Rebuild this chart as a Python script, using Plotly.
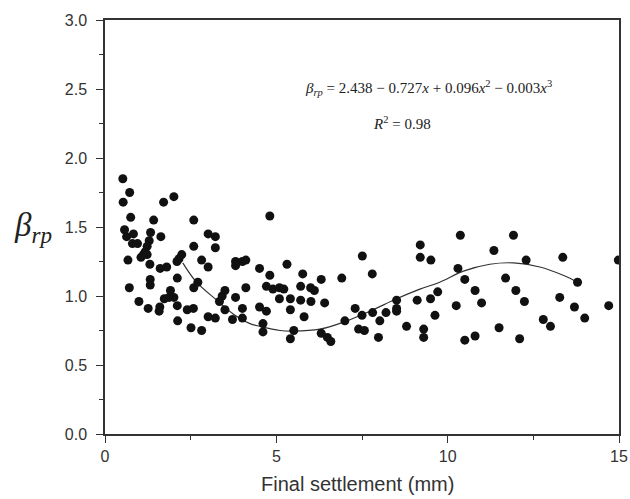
import plotly.graph_objects as go

settlement = [
    0.52, 0.72, 0.53, 1.71, 2.01, 0.75, 1.42, 0.57, 0.63, 0.83, 0.80, 0.95, 1.33, 1.63, 1.29, 1.23,
    1.17, 1.12, 1.05, 1.23, 2.24, 2.16, 2.10, 2.59, 2.59, 0.67, 1.31, 1.61, 1.80, 2.11, 1.32, 1.32,
    0.71, 2.59, 1.91, 1.73, 1.87, 2.01, 0.99, 1.26, 1.60, 1.58, 2.11, 2.40, 2.58, 2.12, 2.51,
    4.81, 3.01, 3.22, 3.22, 2.82, 3.01, 3.81, 3.81, 4.01, 4.11, 4.51, 4.81, 2.71, 3.50, 3.42, 3.34,
    3.81, 4.11, 4.71, 4.90, 5.09, 5.09, 3.01, 3.22, 3.50, 3.72, 4.01, 4.01, 4.51, 4.71, 4.61, 4.61, 2.82,
    7.51, 5.31, 5.77, 6.31, 6.91, 5.22, 5.71, 6.00, 6.11, 5.41, 5.71, 6.01, 6.41, 5.41, 5.81, 7.30,
    7.50, 7.00, 5.51, 5.41, 6.31, 6.49, 6.59, 7.40, 7.57,
    9.20, 9.20, 9.51, 7.80, 8.51, 9.11, 9.50, 9.71, 7.81, 8.20, 8.51, 8.51, 8.02, 9.63, 7.98, 8.80,
    9.30, 9.30,
    10.37, 11.92, 11.35, 12.29, 10.30, 10.50, 11.69, 10.80, 11.99, 10.99, 12.24, 10.25, 11.50, 10.50,
    10.80, 12.10,
    13.36, 14.98, 13.79, 13.27, 13.70, 14.70, 14.00, 12.79, 13.00,
]
beta_rp = [
    1.85, 1.75, 1.68, 1.68, 1.72, 1.57, 1.55, 1.48, 1.43, 1.45, 1.38, 1.38, 1.46, 1.43, 1.40, 1.36,
    1.32, 1.30, 1.28, 1.30, 1.30, 1.27, 1.25, 1.55, 1.36, 1.26, 1.23, 1.20, 1.21, 1.13, 1.12, 1.08,
    1.06, 1.06, 1.04, 0.98, 0.99, 0.99, 0.96, 0.91, 0.92, 0.89, 0.93, 0.90, 0.91, 0.82, 0.77,
    1.58, 1.45, 1.43, 1.35, 1.26, 1.21, 1.25, 1.22, 1.25, 1.26, 1.20, 1.15, 1.10, 1.04, 1.00, 0.96,
    0.99, 1.06, 1.07, 1.05, 1.06, 0.98, 0.85, 0.84, 0.90, 0.83, 0.91, 0.84, 0.92, 0.89, 0.80, 0.74, 0.75,
    1.29, 1.23, 1.16, 1.12, 1.13, 1.05, 1.07, 1.06, 1.04, 0.98, 0.97, 0.96, 0.95, 0.90, 0.85, 0.91,
    0.86, 0.82, 0.75, 0.69, 0.73, 0.70, 0.67, 0.76, 0.75,
    1.37, 1.28, 1.26, 1.16, 0.97, 0.97, 0.98, 1.03, 0.88, 0.88, 0.91, 0.89, 0.82, 0.86, 0.70, 0.78,
    0.76, 0.70,
    1.44, 1.44, 1.33, 1.26, 1.20, 1.12, 1.13, 1.04, 1.04, 0.95, 0.96, 0.93, 0.77, 0.68,
    0.71, 0.69,
    1.28, 1.26, 1.10, 0.99, 0.92, 0.93, 0.84, 0.83, 0.78,
]

# fitted curve
fit_x = [2.27, 2.67, 3.26, 3.74, 4.23, 4.52, 5.11, 5.49, 6.27, 6.95, 7.73, 8.51, 9.19, 9.77,
         10.46, 11.23, 11.92, 12.69, 13.37, 13.79]
fit_y = [1.24, 1.10, 0.97, 0.87, 0.80, 0.78, 0.75, 0.746, 0.76, 0.81, 0.89, 0.98, 1.05, 1.10,
         1.18, 1.23, 1.24, 1.21, 1.15, 1.10]

x_ticks = [0, 5, 10, 15]
y_ticks = [0.0, 0.5, 1.0, 1.5, 2.0, 2.5, 3.0]

fig = go.Figure()
fig.add_trace(go.Scatter(x=fit_x, y=fit_y, mode="lines", line=dict(color="#333333", width=1.2, shape="spline"),
                         showlegend=False, hoverinfo="skip"))
fig.add_trace(go.Scatter(x=settlement, y=beta_rp, mode="markers",
                         marker=dict(color="#111111", size=9), showlegend=False))

axis_common = dict(showline=True, linecolor="#333333", linewidth=1.5, mirror=True, showgrid=False,
                   zeroline=False, ticks="outside", ticklen=7, tickwidth=1.3, tickcolor="#333333",
                   automargin=False,
                   tickfont=dict(family="Liberation Sans, Arial", size=16, color="#333333"))

fig.update_xaxes(range=[0, 15], tickvals=x_ticks, ticktext=[str(v) for v in x_ticks],
                 minor=dict(dtick=2.5, ticks="outside", ticklen=4, tickcolor="#333333", tickwidth=1.2),
                 **axis_common)
fig.update_yaxes(range=[0, 3], tickvals=y_ticks, ticktext=[f"{v:.1f}" for v in y_ticks],
                 ticklabelstandoff=6,
                 minor=dict(dtick=0.25, ticks="outside", ticklen=4, tickcolor="#333333", tickwidth=1.2),
                 **axis_common)

fig.add_annotation(x=0.492, y=-0.12, xref="paper", yref="paper", xanchor="center", yanchor="middle",
                   text="Final settlement (mm)", showarrow=False,
                   font=dict(family="Liberation Sans, Arial", size=20, color="#333333"))
fig.add_annotation(x=-0.14, y=0.5, xref="paper", yref="paper", xanchor="center", yanchor="middle",
                   text="<i>β</i><sub><i>rp</i></sub>", showarrow=False,
                   font=dict(family="Liberation Serif, Times New Roman", size=33, color="#222222"))
fig.add_annotation(x=0.63, y=0.865, xref="paper", yref="paper", xanchor="center",
                   text="<i>β</i><sub><i>rp</i></sub> = 2.438 − 0.727<i>x</i> + 0.096<i>x</i><sup>2</sup> − 0.003<i>x</i><sup>3</sup>",
                   showarrow=False,
                   font=dict(family="Liberation Serif, Times New Roman", size=15, color="#222222"))
fig.add_annotation(x=0.577, y=0.777, xref="paper", yref="paper", xanchor="center",
                   text="<i>R</i><sup>2</sup> = 0.98", showarrow=False,
                   font=dict(family="Liberation Serif, Times New Roman", size=15, color="#222222"))

fig.update_layout(width=630, height=499, margin=dict(l=105, r=11, t=20, b=65),
                  plot_bgcolor="white", paper_bgcolor="white")

fig.write_html("out.html")
